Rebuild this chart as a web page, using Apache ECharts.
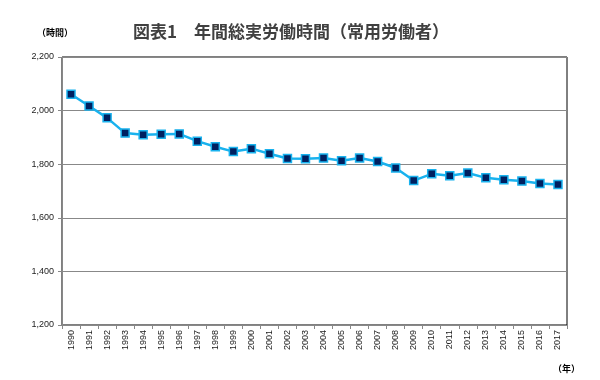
<!DOCTYPE html>
<html><head><meta charset="utf-8">
<script src="https://cdn.jsdelivr.net/npm/echarts@6/dist/echarts.min.js"></script>
<style>html,body{margin:0;padding:0;background:#fff}#c{width:600px;height:380px}</style>
</head><body><div id="c"></div>
<script>
const years = ['1990','1991','1992','1993','1994','1995','1996','1997','1998','1999','2000','2001','2002','2003','2004','2005','2006','2007','2008','2009','2010','2011','2012','2013','2014','2015','2016','2017'];
const hours = [2061,2017,1973,1916,1910,1912,1913,1886,1865,1847,1858,1839,1821,1820,1823,1813,1823,1810,1786,1739,1764,1757,1767,1749,1742,1737,1728,1724];
const yTicks = [1200,1400,1600,1800,2000,2200];
const titleText = '図表1　年間総実労働時間（常用労働者）';
const yUnit = '（時間）';
const xUnit = '（年）';

const chart = echarts.init(document.getElementById('c'), null, {renderer:'canvas'});
const font = '"Noto Sans CJK JP", "Noto Sans", sans-serif';
chart.setOption({
  animation:false,
  backgroundColor:'#fff',
  title:{text:titleText,left:286,top:18,textAlign:'center',
    textStyle:{fontFamily:font,fontSize:17,fontWeight:'bold',color:'#404040'}},
  graphic:[
    {type:'text',left:37,top:28,style:{text:yUnit,font:'bold 9px '+font,fill:'#000'}},
    {type:'text',left:553,top:364,style:{text:xUnit,font:'bold 9px '+font,fill:'#000'}}
  ],
  grid:{left:62,right:33,top:57,bottom:55,show:true,borderColor:'#000',borderWidth:1,backgroundColor:'transparent'},
  xAxis:{type:'category',data:years,boundaryGap:true,
    axisLine:{lineStyle:{color:'#888',width:1}},
    axisTick:{show:true,length:4,lineStyle:{color:'#888'},interval:0},
    axisLabel:{rotate:90,interval:0,fontSize:9,color:'#222',fontFamily:'"Liberation Sans", Arial, sans-serif',margin:5},
    splitLine:{show:false}},
  yAxis:{type:'value',min:yTicks[0],max:yTicks[yTicks.length-1],interval:200,
    axisLine:{show:true,lineStyle:{color:'#888',width:1}},
    axisTick:{show:true,length:4,lineStyle:{color:'#888'}},
    axisLabel:{fontSize:9,color:'#222',margin:8,fontFamily:'"Liberation Sans", Arial, sans-serif',
      formatter:v=>v.toLocaleString('en-US')},
    splitLine:{show:true,lineStyle:{color:'#888',width:1}}},
  series:[{type:'line',data:hours,symbol:'rect',symbolSize:8,
    lineStyle:{color:'#19B2EE',width:2.5},
    itemStyle:{color:'#002060',borderColor:'#19B2EE',borderWidth:1.5},
    z:5}]
});
</script></body></html>
